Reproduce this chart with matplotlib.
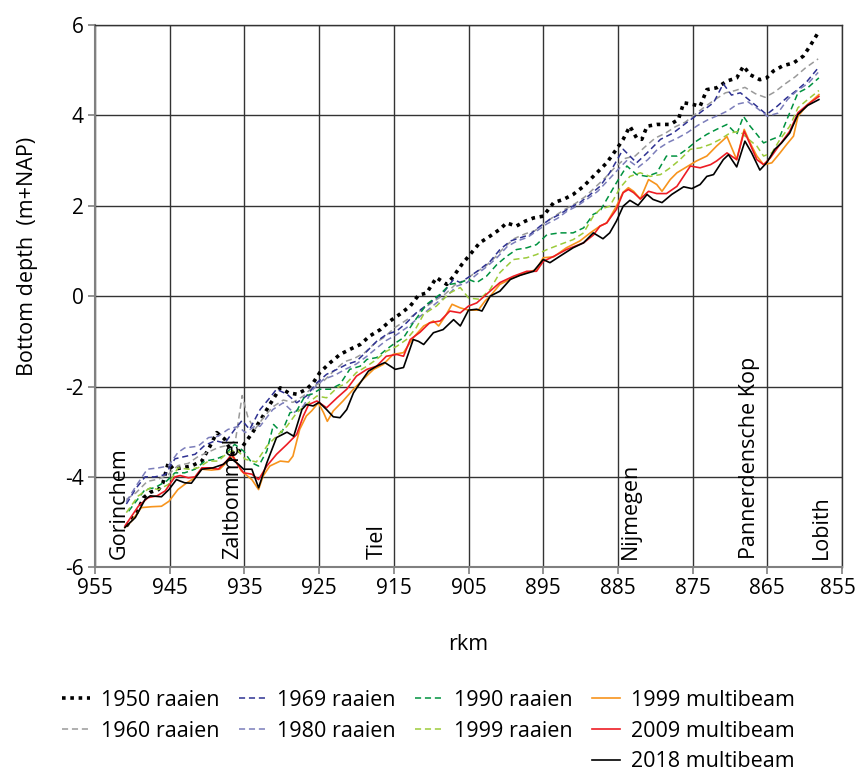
import matplotlib.pyplot as plt
import matplotlib.transforms as mtransforms
from matplotlib.lines import Line2D

plt.rcParams['font.family'] = ['Open Sans', 'DejaVu Sans']
plt.rcParams['axes.unicode_minus'] = False

# river km (rkm) and bottom level (m+NAP)
rkm_1950 = [950.8, 949.4, 948.5, 947.6, 946.5, 945.9, 945.2, 944.5, 943.4, 942.1,
            940.7, 939.6, 938.7, 937.6, 936.7, 936.0, 934.7, 933.8, 932.5, 931.6,
            930.2, 929.1, 928.0, 926.7, 925.8, 924.9, 923.5, 922.2, 920.9, 919.5,
            918.2, 916.8, 915.5, 914.2, 912.8, 911.7, 910.6, 909.3, 907.9, 907.0,
            905.9, 904.8, 903.5, 902.1, 900.8, 899.9, 898.6, 897.4, 896.3, 895.0,
            893.6, 892.3, 891.0, 889.6, 888.3, 886.5, 885.2, 884.3, 883.4, 882.5,
            881.8, 881.1, 879.8, 878.0, 876.9, 876.2, 874.9, 874.0, 873.1, 871.8,
            870.4, 869.1, 868.2, 867.3, 866.0, 865.1, 864.2, 862.9, 861.5, 860.2,
            859.3, 858.2]
z_1950 = [-5.09, -4.79, -4.46, -4.34, -4.28, -4.13, -3.69, -3.83, -3.80, -3.76,
          -3.65, -3.32, -3.02, -3.17, -3.46, -3.50, -3.20, -2.99, -2.65, -2.40,
          -2.03, -2.14, -2.17, -2.06, -1.92, -1.69, -1.47, -1.29, -1.18, -1.07,
          -0.88, -0.74, -0.55, -0.40, -0.22, 0.02, 0.07, 0.41, 0.26, 0.44,
          0.70, 0.92, 1.18, 1.33, 1.48, 1.62, 1.55, 1.66, 1.73, 1.77,
          2.07, 2.14, 2.25, 2.43, 2.65, 2.95, 3.25, 3.47, 3.76, 3.50,
          3.47, 3.76, 3.80, 3.80, 3.91, 4.28, 4.24, 4.20, 4.57, 4.61,
          4.76, 4.83, 5.09, 4.90, 4.79, 4.83, 4.98, 5.10, 5.16, 5.31,
          5.53, 5.83]

rkm_1960 = [950.8, 949.5, 948.0, 946.5, 945.2, 943.9, 942.5, 941.2, 939.8, 938.5,
            937.2, 936.2, 935.3, 934.5, 933.6, 932.5, 931.2, 929.8, 928.5, 927.1,
            925.8, 924.4, 923.0, 921.6, 920.3, 918.9, 917.6, 916.2, 914.9, 913.5,
            912.2, 910.8, 909.5, 908.1, 906.8, 905.5, 904.1, 902.8, 901.5, 900.1,
            898.8, 897.4, 896.1, 894.8, 893.4, 892.1, 890.7, 889.4, 888.1, 886.7,
            885.4, 884.0, 882.7, 881.4, 880.0, 878.7, 877.3, 876.0, 874.7, 873.3,
            872.0, 870.6, 869.3, 868.0, 866.6, 865.3, 864.0, 862.6, 861.3, 859.9,
            858.2]
z_1960 = [-4.50, -4.35, -4.10, -4.05, -3.95, -3.75, -3.70, -3.55, -3.45, -3.35,
          -3.30, -3.20, -2.20, -2.70, -2.95, -2.70, -2.45, -2.30, -2.35, -2.21,
          -2.00, -1.88, -1.65, -1.45, -1.38, -1.25, -1.05, -0.90, -0.70, -0.55,
          -0.40, -0.25, -0.10, 0.05, 0.25, 0.35, 0.52, 0.65, 0.85, 1.10,
          1.28, 1.38, 1.45, 1.62, 1.78, 1.92, 2.05, 2.20, 2.40, 2.62,
          2.85, 3.05, 3.10, 3.30, 3.50, 3.60, 3.75, 3.85, 4.02, 4.20,
          4.35, 4.50, 4.55, 4.62, 4.48, 4.40, 4.52, 4.70, 4.85, 5.05,
          5.25]

rkm_1969 = [950.8, 949.5, 948.3, 947.0, 945.6, 944.3, 943.0, 941.6, 940.3, 938.9,
            937.6, 936.3, 935.3, 934.3, 932.9, 931.6, 930.7, 929.3, 928.0, 926.7,
            925.3, 924.0, 922.6, 921.3, 920.0, 918.6, 917.3, 916.0, 914.6, 913.3,
            912.0, 910.6, 909.3, 908.4, 907.0, 906.1, 904.8, 903.5, 902.1, 900.8,
            899.4, 898.1, 896.8, 895.4, 894.1, 892.8, 891.4, 890.1, 888.7, 887.4,
            886.1, 884.3, 883.4, 882.5, 881.1, 879.3, 877.6, 875.8, 874.0, 872.2,
            870.9, 869.8, 868.6, 867.5, 866.4, 865.1, 863.7, 862.4, 861.1, 859.7,
            858.2]
z_1969 = [-4.60, -4.25, -4.00, -4.00, -3.95, -3.60, -3.55, -3.50, -3.30, -3.20,
          -3.25, -2.95, -2.75, -2.95, -2.51, -2.25, -2.06, -2.17, -2.36, -2.21,
          -1.92, -1.73, -1.62, -1.51, -1.44, -1.22, -1.00, -0.85, -0.77, -0.59,
          -0.37, -0.20, -0.04, 0.07, 0.37, 0.30, 0.44, 0.59, 0.77, 1.03,
          1.22, 1.29, 1.36, 1.55, 1.70, 1.81, 1.96, 2.07, 2.25, 2.43,
          2.73, 3.25, 3.10, 2.95, 3.17, 3.47, 3.61, 3.84, 4.06, 4.28,
          4.70, 4.45, 4.50, 4.35, 4.20, 4.02, 4.20, 4.39, 4.55, 4.75,
          5.05]

rkm_1980 = [950.8, 949.5, 948.0, 946.5, 945.2, 943.9, 943.0, 941.2, 939.8, 938.5,
            937.2, 935.8, 934.9, 933.6, 932.9, 931.2, 929.8, 928.4, 927.1, 925.8,
            924.4, 922.9, 921.5, 920.0, 918.6, 917.3, 916.0, 914.6, 913.3, 912.0,
            910.6, 909.3, 907.9, 906.6, 905.2, 903.9, 902.5, 901.2, 899.8, 898.5,
            897.1, 895.8, 894.5, 893.1, 891.8, 890.4, 889.1, 887.7, 886.4, 885.0,
            883.7, 882.3, 881.0, 879.7, 878.3, 877.0, 875.7, 874.3, 873.0, 871.6,
            870.3, 869.0, 867.6, 866.3, 865.0, 863.6, 862.3, 861.0, 859.6, 858.2]
z_1980 = [-4.55, -4.20, -3.83, -3.80, -3.76, -3.46, -3.36, -3.32, -3.13, -3.10,
          -2.95, -2.88, -3.02, -2.88, -2.88, -2.51, -2.36, -2.58, -2.43, -2.06,
          -1.84, -1.75, -1.62, -1.50, -1.33, -1.15, -0.98, -0.85, -0.70, -0.52,
          -0.33, -0.15, 0.00, 0.22, 0.30, 0.48, 0.66, 0.85, 1.10, 1.22,
          1.30, 1.45, 1.60, 1.72, 1.88, 2.00, 2.15, 2.32, 2.55, 2.80,
          3.02, 2.85, 3.02, 3.25, 3.40, 3.50, 3.62, 3.78, 3.90, 4.00,
          4.10, 4.25, 4.30, 4.15, 3.98, 4.05, 4.35, 4.55, 4.70, 4.95]

rkm_1990 = [950.5, 948.3, 947.0, 945.4, 944.3, 943.0, 941.6, 940.3, 938.9, 937.8,
            936.3, 935.1, 934.0, 933.1, 932.0, 931.1, 930.0, 928.9, 928.0, 926.9,
            926.0, 924.9, 923.5, 922.2, 920.9, 919.5, 918.6, 917.3, 916.0, 915.1,
            913.7, 912.4, 910.6, 908.8, 907.5, 906.1, 905.0, 903.9, 902.6, 901.2,
            899.9, 898.6, 897.2, 895.9, 894.5, 892.8, 891.0, 889.6, 888.3, 887.4,
            886.5, 885.2, 883.8, 882.5, 881.1, 879.8, 878.5, 877.1, 875.8, 874.5,
            873.1, 871.8, 870.4, 869.1, 868.2, 867.3, 866.4, 865.5, 864.4, 863.3,
            862.0, 860.9, 859.6, 858.1]
z_1990 = [-4.76, -4.28, -4.24, -4.09, -3.91, -3.91, -3.83, -3.65, -3.61, -3.54,
          -3.28, -3.43, -3.69, -3.76, -3.43, -2.84, -3.02, -2.58, -2.54, -2.21,
          -2.17, -2.06, -2.06, -1.95, -1.62, -1.55, -1.40, -1.36, -1.18, -1.07,
          -0.92, -0.59, -0.18, 0.04, 0.26, 0.30, 0.37, 0.30, 0.44, 0.70,
          0.88, 1.03, 1.07, 1.14, 1.36, 1.40, 1.40, 1.51, 1.81, 1.88,
          2.14, 2.51, 2.88, 2.69, 2.65, 2.73, 3.10, 3.10, 3.25, 3.43,
          3.58, 3.69, 3.80, 3.58, 3.98, 3.76, 3.58, 3.39, 3.47, 3.54,
          4.06, 4.50, 4.61, 4.83]

rkm_1999r = [950.8, 949.2, 947.6, 946.5, 945.2, 943.9, 942.5, 941.2, 939.8, 938.5,
             937.2, 936.0, 934.9, 933.4, 932.0, 930.7, 929.3, 928.0, 926.7, 925.3,
             924.0, 922.6, 921.3, 920.0, 918.6, 917.3, 916.0, 914.6, 913.3, 912.0,
             911.0, 909.3, 907.5, 906.1, 905.0, 903.5, 902.1, 900.8, 899.0, 897.2,
             895.9, 894.5, 892.8, 891.0, 889.6, 888.3, 887.4, 886.1, 884.7, 883.4,
             882.0, 880.7, 879.3, 878.0, 876.7, 875.3, 874.0, 872.6, 871.3, 870.0,
             868.7, 867.5, 866.4, 865.5, 864.4, 863.3, 862.0, 860.9, 859.6, 858.1]
z_1999r = [-4.79, -4.42, -4.24, -4.28, -4.17, -3.80, -3.83, -3.80, -3.65, -3.65,
           -3.46, -3.39, -3.61, -3.67, -3.32, -3.10, -2.88, -2.58, -2.40, -2.21,
           -2.25, -2.03, -1.92, -1.69, -1.55, -1.40, -1.22, -1.11, -0.96, -0.70,
           -0.40, -0.22, 0.07, 0.19, -0.04, -0.07, 0.15, 0.52, 0.81, 0.85,
           0.92, 1.03, 1.14, 1.25, 1.40, 1.77, 1.92, 1.99, 2.40, 2.65,
           2.73, 2.65, 2.69, 2.84, 3.02, 3.25, 3.28, 3.36, 3.47, 3.61,
           3.65, 3.47, 3.32, 3.10, 3.17, 3.47, 3.76, 4.17, 4.35, 4.55]

rkm_1999m = [951.0, 950.1, 948.8, 947.4, 946.1, 945.1, 943.9, 942.7, 941.8, 940.7,
             939.4, 938.3, 937.2, 936.5, 935.4, 934.0, 933.1, 932.5, 931.6, 930.2,
             929.1, 928.5, 927.6, 926.7, 926.0, 925.1, 924.4, 923.9, 923.1, 921.8,
             920.4, 919.1, 917.7, 916.4, 915.1, 913.7, 912.4, 911.0, 909.7, 909.0,
             908.1, 907.2, 906.1, 905.0, 903.7, 902.8, 902.1, 900.8, 899.0, 897.2,
             895.9, 895.0, 893.6, 891.9, 890.1, 888.7, 887.4, 886.5, 885.2, 884.3,
             883.6, 882.9, 882.0, 880.9, 879.8, 879.1, 878.0, 877.1, 875.3, 874.5,
             873.1, 871.8, 870.4, 869.1, 868.1, 867.3, 866.4, 865.5, 864.4, 863.3,
             862.4, 861.5, 860.9, 859.6, 858.1]
z_1999m = [-5.12, -4.98, -4.68, -4.66, -4.65, -4.54, -4.28, -4.13, -4.04, -3.83,
           -3.85, -3.83, -3.65, -3.54, -3.87, -4.06, -4.28, -3.98, -3.76, -3.65,
           -3.67, -3.54, -2.95, -2.65, -2.54, -2.36, -2.58, -2.77, -2.54, -2.32,
           -2.06, -1.84, -1.62, -1.51, -1.29, -1.25, -0.92, -0.66, -0.55, -0.66,
           -0.44, -0.18, -0.26, -0.31, -0.31, -0.11, 0.00, 0.26, 0.41, 0.52,
           0.59, 0.85, 0.87, 1.07, 1.22, 1.40, 1.55, 1.62, 1.99, 2.30,
           2.40, 2.32, 2.15, 2.58, 2.47, 2.32, 2.58, 2.73, 2.91, 2.99,
           3.10, 3.32, 3.53, 3.02, 3.69, 3.39, 3.10, 2.91, 2.95, 3.17,
           3.36, 3.54, 3.98, 4.24, 4.46]

rkm_2009 = [951.0, 949.2, 947.9, 946.7, 945.6, 944.3, 943.6, 942.5, 941.6, 940.7,
            939.6, 938.5, 937.4, 936.7, 935.8, 935.1, 934.0, 933.1, 932.0, 930.7,
            929.3, 928.0, 927.1, 926.4, 925.3, 924.0, 922.6, 921.3, 920.0, 918.6,
            917.3, 916.0, 914.6, 913.7, 912.8, 911.5, 910.2, 908.8, 907.5, 906.1,
            905.0, 903.9, 902.6, 900.8, 899.0, 897.2, 895.9, 895.0, 893.6, 891.9,
            889.6, 888.3, 887.4, 886.5, 885.2, 884.3, 883.6, 882.9, 882.0, 880.9,
            879.8, 878.5, 877.1, 875.3, 874.0, 872.6, 871.8, 870.4, 869.1, 868.1,
            867.3, 866.4, 865.5, 864.6, 863.3, 862.0, 860.9, 859.6, 858.1]
z_2009 = [-5.09, -4.65, -4.46, -4.42, -4.31, -4.00, -3.97, -4.02, -4.00, -3.80,
          -3.80, -3.83, -3.65, -3.50, -3.76, -3.91, -3.94, -4.06, -3.76, -3.50,
          -3.28, -3.06, -2.65, -2.40, -2.32, -2.47, -2.25, -2.06, -1.77, -1.62,
          -1.55, -1.33, -1.29, -1.33, -0.96, -0.80, -0.59, -0.55, -0.33, -0.37,
          -0.22, -0.15, 0.04, 0.30, 0.44, 0.55, 0.55, 0.77, 0.88, 1.03,
          1.18, 1.35, 1.55, 1.62, 1.92, 2.29, 2.36, 2.29, 2.15, 2.32,
          2.27, 2.27, 2.43, 2.88, 2.84, 2.91, 2.99, 3.17, 3.02, 3.65,
          3.36, 3.02, 2.91, 3.06, 3.36, 3.65, 4.06, 4.24, 4.42]

rkm_2018 = [951.0, 949.6, 948.3, 947.6, 946.1, 945.1, 944.1, 943.0, 942.1, 940.7,
            939.2, 937.8, 936.9, 935.8, 935.1, 934.0, 933.1, 932.0, 930.7, 929.3,
            928.4, 927.3, 926.7, 925.8, 925.0, 924.0, 923.1, 922.2, 921.3, 920.4,
            919.5, 918.4, 917.3, 916.2, 914.8, 913.7, 912.4, 911.7, 911.0, 909.7,
            908.4, 907.0, 906.1, 905.0, 903.9, 903.2, 902.1, 900.8, 899.4, 898.1,
            896.3, 895.0, 894.1, 892.8, 891.0, 889.6, 888.3, 887.0, 886.1, 885.2,
            884.3, 883.4, 882.3, 881.1, 880.3, 879.1, 877.8, 876.2, 875.1, 874.0,
            873.1, 872.2, 870.9, 870.2, 869.1, 868.0, 867.1, 866.0, 865.1, 864.0,
            863.1, 862.0, 860.9, 859.6, 858.1]
z_2018 = [-5.12, -4.90, -4.50, -4.42, -4.44, -4.28, -4.06, -4.13, -4.14, -3.83,
          -3.80, -3.72, -3.58, -3.72, -3.83, -3.83, -4.24, -3.69, -3.13, -3.01,
          -3.10, -2.51, -2.40, -2.43, -2.35, -2.51, -2.67, -2.69, -2.51, -2.14,
          -1.92, -1.66, -1.55, -1.47, -1.62, -1.58, -0.96, -1.00, -1.07, -0.81,
          -0.74, -0.52, -0.66, -0.31, -0.29, -0.33, 0.00, 0.11, 0.37, 0.46,
          0.55, 0.81, 0.74, 0.88, 1.07, 1.18, 1.40, 1.27, 1.40, 1.66,
          1.99, 2.12, 2.01, 2.25, 2.14, 2.07, 2.25, 2.42, 2.38, 2.47,
          2.65, 2.69, 3.02, 3.13, 2.86, 3.43, 3.17, 2.79, 2.95, 3.25,
          3.39, 3.61, 4.02, 4.22, 4.35]

places = ['Gorinchem', 'Zaltbommel', 'Tiel', 'Nijmegen', 'Pannerdensche Kop', 'Lobith']
place_rkm = [951.8, 936.6, 917.2, 883.3, 867.4, 857.7]

x_ticks = [955, 945, 935, 925, 915, 905, 895, 885, 875, 865, 855]
y_ticks = [-6, -4, -2, 0, 2, 4, 6]

fig = plt.figure(figsize=(8.58, 7.72), dpi=100)
ax = fig.add_axes([0.1107, 0.2652, 0.8707, 0.7024])

dash = (0, (4, 2.5))
series = [
    (rkm_1950, z_1950, '1950 raaien', '#000000', 2.6, (0, (1, 1.3))),
    (rkm_1960, z_1960, '1960 raaien', '#9a9a9a', 1.1, dash),
    (rkm_1969, z_1969, '1969 raaien', '#2e3192', 1.1, dash),
    (rkm_1980, z_1980, '1980 raaien', '#7b7dba', 1.1, dash),
    (rkm_1990, z_1990, '1990 raaien', '#00923f', 1.1, dash),
    (rkm_1999r, z_1999r, '1999 raaien', '#9ccb3b', 1.1, dash),
    (rkm_1999m, z_1999m, '1999 multibeam', '#f7941d', 1.2, '-'),
    (rkm_2009, z_2009, '2009 multibeam', '#ed1c24', 1.2, '-'),
    (rkm_2018, z_2018, '2018 multibeam', '#000000', 1.2, '-'),
]
handles = {}
for x, y, label, color, lw, ls in series:
    line, = ax.plot(x, y, color=color, lw=lw, linestyle=ls, label=label, zorder=3)
    handles[label] = line

ax.set_xlim(955, 855)
ax.set_ylim(-6, 6)
ax.set_xticks(x_ticks)
ax.set_yticks(y_ticks)
ax.grid(True, color='#333333', lw=1.0, zorder=0)
ax.tick_params(axis='both', direction='out', length=5, width=1.2, color='#808080',
               labelsize=15, pad=3)
for side in ['left', 'bottom']:
    ax.spines[side].set_color('#808080')
    ax.spines[side].set_linewidth(1.5)
for side in ['top', 'right']:
    ax.spines[side].set_color('#333333')
    ax.spines[side].set_linewidth(1.0)

# keep the last tick label inside the figure
last = ax.get_xticklabels()[-1]
last.set_transform(last.get_transform() +
                   mtransforms.ScaledTranslation(-4 / 100, 0, fig.dpi_scale_trans))

for name, r in zip(places, place_rkm):
    ax.text(r, -5.82, name, rotation=90, ha='center', va='bottom', fontsize=15.5, zorder=4)

fig.text(27 / 858, 0.668, 'Bottom depth  (m+NAP)', rotation=90, ha='center', va='center',
         fontsize=15.5)
fig.text(468.5 / 858, 1 - 645 / 772, 'rkm', ha='center', va='center', fontsize=15.5)

blank = Line2D([], [], color='none')
order = ['1950 raaien', '1960 raaien', None,
         '1969 raaien', '1980 raaien', None,
         '1990 raaien', '1999 raaien', None,
         '1999 multibeam', '2009 multibeam', '2018 multibeam']
leg_handles = [handles[k] if k else blank for k in order]
leg_labels = [k if k else '' for k in order]
fig.legend(leg_handles, leg_labels, ncol=4, loc='upper left',
           bbox_to_anchor=(62 / 858, 1 - 690 / 772), frameon=False, fontsize=15.5,
           handlelength=1.3, handletextpad=0.5, columnspacing=0.9, labelspacing=0.45,
           borderpad=0, borderaxespad=0)

fig.savefig('out.png', dpi=100)
